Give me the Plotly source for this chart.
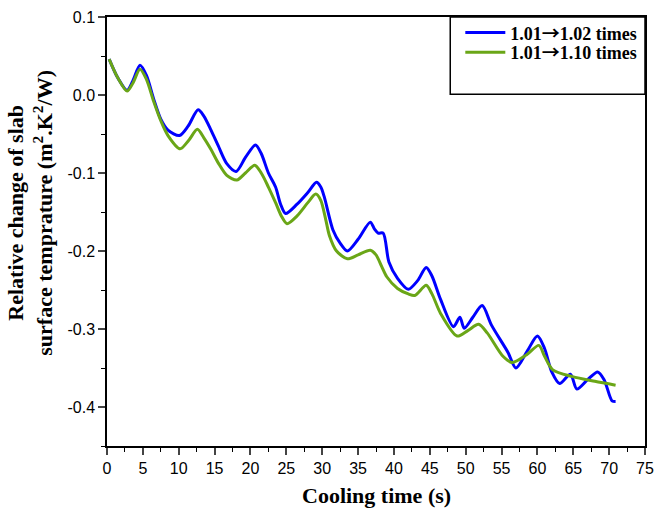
import plotly.graph_objects as go

t_a = [0.3, 1.5, 2.8, 3.6, 4.6, 5.5, 6.5, 7.5, 8.5, 10.1, 11.3, 12.7, 13.5, 14.5, 15.5, 16.7, 18.0,
       19.3, 20.7, 21.5, 22.5, 23.5, 24.2, 24.9, 26.5, 28.0, 29.2, 29.8, 30.3, 31.5, 32.5, 33.5,
       35.0, 36.7, 37.3, 37.8, 38.5, 39.3, 40.5, 42.0, 43.3, 44.5, 45.3, 46.5, 48.3, 49.2, 49.8,
       51.0, 52.3, 53.6, 55.9, 57.0, 58.6, 60.0, 61.0, 62.0, 63.1, 64.6, 65.5, 67.0, 68.4, 69.3,
       70.4, 70.9]
v_a = [0.046, 0.022, 0.006, 0.018, 0.038, 0.025, -0.005, -0.031, -0.045, -0.052, -0.040, -0.019,
       -0.027, -0.045, -0.065, -0.088, -0.098, -0.080, -0.064, -0.075, -0.100, -0.118, -0.140,
       -0.152, -0.140, -0.125, -0.112, -0.118, -0.131, -0.173, -0.190, -0.200, -0.185, -0.163,
       -0.172, -0.177, -0.177, -0.214, -0.235, -0.249, -0.238, -0.221, -0.232, -0.262, -0.297,
       -0.285, -0.299, -0.285, -0.270, -0.295, -0.330, -0.350, -0.328, -0.309, -0.325, -0.355,
       -0.370, -0.358, -0.377, -0.365, -0.355, -0.365, -0.392, -0.393]

t_b = [0.3, 1.5, 2.8, 3.6, 4.6, 5.5, 6.5, 7.5, 8.5, 10.2, 11.4, 12.6, 13.5, 14.5, 15.5, 16.7, 18.1,
       19.3, 20.6, 21.5, 22.5, 23.5, 24.3, 25.1, 26.5, 28.0, 29.1, 29.8, 30.5, 31.0, 32.0, 33.5,
       35.0, 36.7, 37.5, 38.3, 39.0, 40.5, 42.0, 42.9, 44.5, 45.3, 46.5, 48.8, 50.3, 51.8, 53.0,
       55.2, 56.5, 58.5, 60.2, 61.0, 62.1, 64.9, 68.0, 70.9]
v_b = [0.046, 0.022, 0.005, 0.015, 0.033, 0.020, -0.008, -0.033, -0.052, -0.069, -0.058, -0.044,
       -0.055, -0.070, -0.087, -0.103, -0.109, -0.100, -0.090, -0.100, -0.118, -0.138, -0.155,
       -0.165, -0.155, -0.138, -0.127, -0.135, -0.160, -0.180, -0.200, -0.210, -0.205, -0.199,
       -0.205, -0.220, -0.233, -0.248, -0.255, -0.257, -0.244, -0.255, -0.280, -0.309, -0.302,
       -0.294, -0.305, -0.335, -0.343, -0.333, -0.321, -0.335, -0.352, -0.361, -0.367, -0.372]

arrow = "<span style='font-family:\"Noto Sans CJK SC\"'>→</span>"
names = ["1.01" + arrow + "1.02 times", "1.01" + arrow + "1.10 times"]
colors = ["#0000FF", "#6AA617"]

x_ticks = list(range(0, 80, 5))
x_labels = [str(v) for v in x_ticks]
y_ticks = [0.1, 0.0, -0.1, -0.2, -0.3, -0.4]
y_labels = ["0.1", "0.0", "-0.1", "-0.2", "-0.3", "-0.4"]

fig = go.Figure()
fig.add_trace(go.Scatter(x=t_a, y=v_a, mode="lines", name=names[0], legend="legend",
                         showlegend=True,
                         line=dict(color=colors[0], width=3, shape="spline", smoothing=0.8)))
fig.add_trace(go.Scatter(x=t_b, y=v_b, mode="lines", name=names[1], legend="legend2",
                         showlegend=True,
                         line=dict(color=colors[1], width=3, shape="spline", smoothing=0.8)))

axis_font = dict(family="Liberation Sans, Arial", size=16, color="black")
title_font = dict(family="Liberation Serif, Times New Roman", size=22, color="black")
fig.update_xaxes(range=[0, 75], tickvals=x_ticks, ticktext=x_labels, ticks="outside", ticklen=7,
                 tickwidth=1.5, showline=True, linewidth=1.5, linecolor="black", mirror=True,
                 showgrid=False, zeroline=False, tickfont=axis_font,
                 minor=dict(dtick=2.5, tick0=0, ticks="outside", ticklen=4, tickwidth=1.2,
                            tickcolor="black"))
fig.update_yaxes(range=[-0.45, 0.1], tickvals=y_ticks, ticktext=y_labels, ticks="outside",
                 ticklen=7, tickwidth=1.5, showline=True, linewidth=1.5, linecolor="black",
                 mirror=True, showgrid=False, zeroline=False, tickfont=axis_font,
                 minor=dict(dtick=0.05, tick0=0, ticks="outside", ticklen=4, tickwidth=1.2,
                            tickcolor="black"))

fig.add_annotation(text="<b>Cooling time (s)</b>", xref="paper", yref="paper", x=0.5, y=-0.115,
                   xanchor="center", yanchor="middle", showarrow=False, font=title_font)
fig.add_annotation(text="<b>Relative change of slab</b><br><b>surface temprature (m<sup>2</sup>.K<sup>2</sup>/W)</b>",
                   xref="paper", yref="paper", x=-0.143, y=0.544, xanchor="center", yanchor="middle",
                   textangle=-90, showarrow=False, font=title_font)

fig.add_shape(type="rect", xref="paper", yref="paper", x0=0.638, x1=1.0, y0=0.82, y1=1.0,
              line=dict(color="black", width=1.5))

leg_common = dict(xanchor="right", yanchor="middle", bgcolor="rgba(0,0,0,0)", borderwidth=0,
                  font=dict(family="Liberation Serif, Times New Roman", size=18,
                            color="black", weight="bold"),
                  itemwidth=40, visible=True)
fig.update_layout(width=663, height=518, margin=dict(l=107, r=9, t=12, b=72),
                  plot_bgcolor="white", paper_bgcolor="white", showlegend=True,
                  legend=dict(x=0.995, y=0.963, **leg_common),
                  legend2=dict(x=0.995, y=0.917, **leg_common))

fig.write_html("out.html")
